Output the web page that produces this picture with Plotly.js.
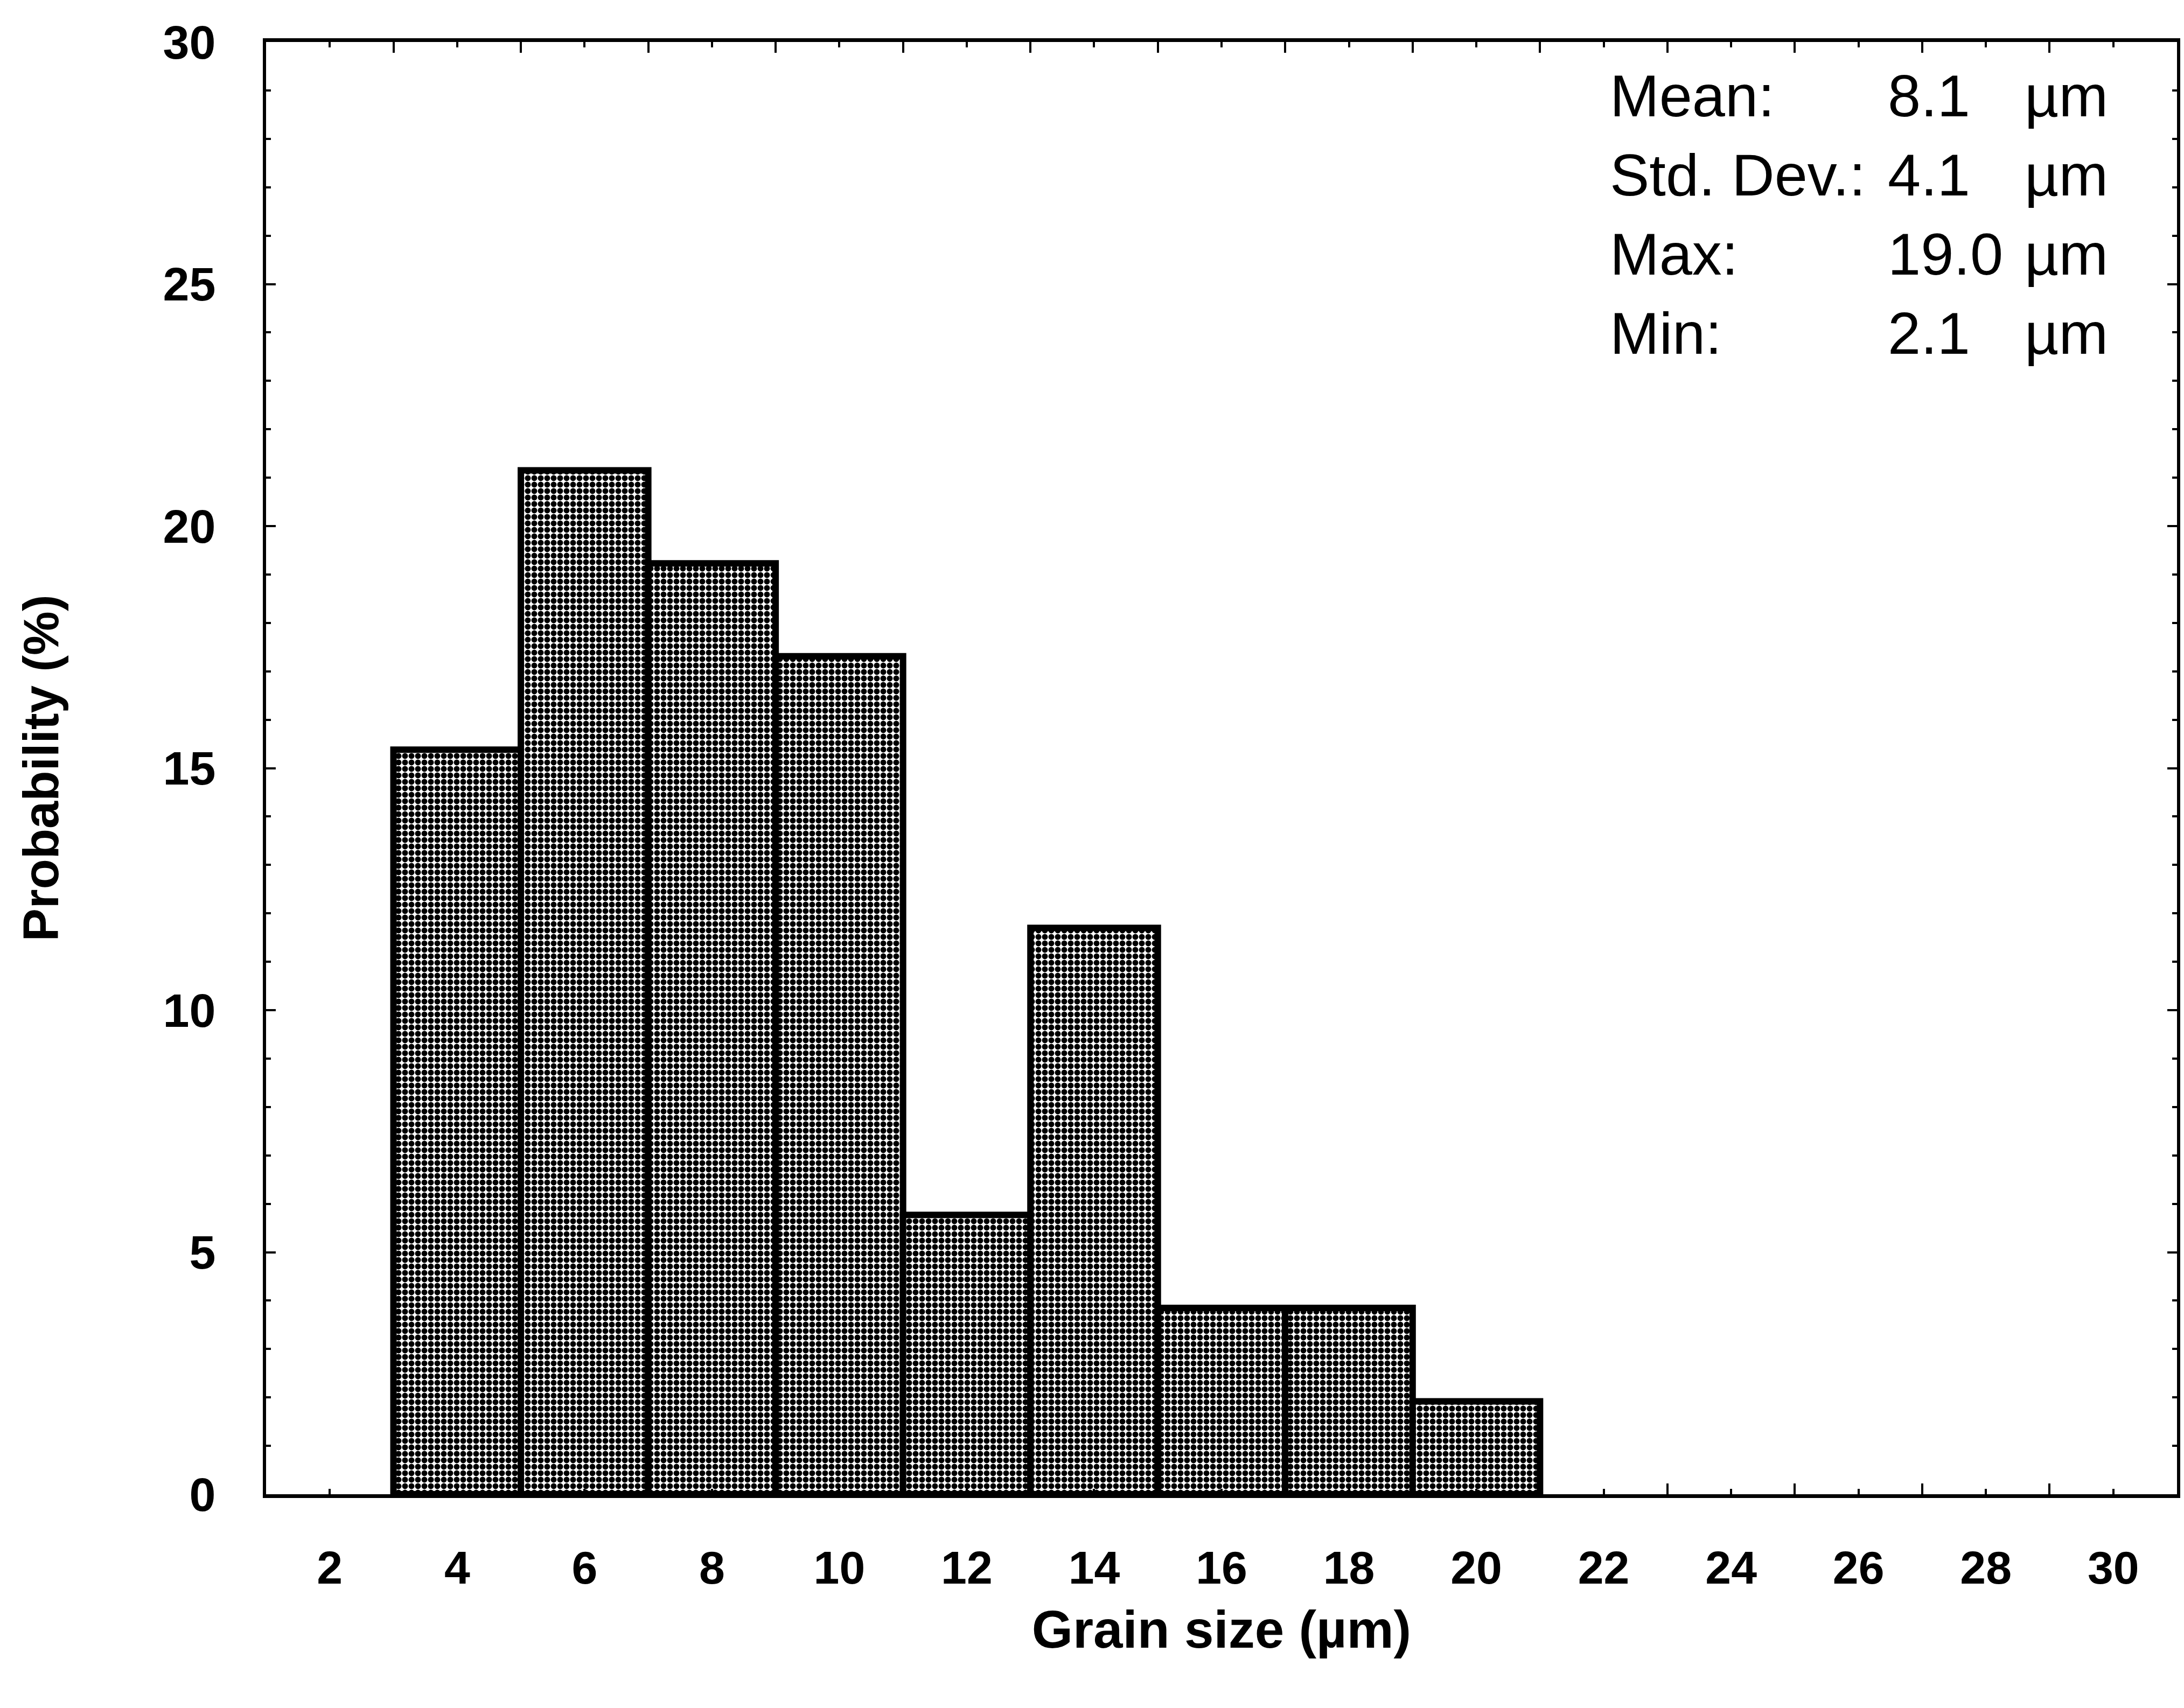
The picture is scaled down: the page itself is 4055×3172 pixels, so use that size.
<!DOCTYPE html>
<html>
<head>
<meta charset="utf-8">
<script src="https://cdn.plot.ly/plotly-3.0.1.min.js"></script>
<style>html,body{margin:0;padding:0;background:#fff;}</style>
</head>
<body>
<div id="chart" style="width:4055px;height:3172px;"></div>
<script>
// ---- data ----
const binCenters = [4, 6, 8, 10, 12, 14, 16, 18, 20];
const probability = [15.38, 21.15, 19.23, 17.31, 5.77, 11.7, 3.85, 3.85, 1.92];
const binWidth = 2;
const xTickVals = [2, 4, 6, 8, 10, 12, 14, 16, 18, 20, 22, 24, 26, 28, 30];
const xTickText = ['2', '4', '6', '8', '10', '12', '14', '16', '18', '20', '22', '24', '26', '28', '30'];
const xEdgeTicks = [3, 5, 7, 9, 11, 13, 15, 17, 19, 21, 23, 25, 27, 29];
const yTickVals = [0, 5, 10, 15, 20, 25, 30];
const yTickText = ['0', '5', '10', '15', '20', '25', '30'];
const statLabels = ['Mean:', 'Std. Dev.:', 'Max:', 'Min:'];
const statValues = ['8.1', '4.1', '19.0', '2.1'];
const statUnits = ['\u00b5m', '\u00b5m', '\u00b5m', '\u00b5m'];
const xTitle = 'Grain size (\u00b5m)';
const yTitle = 'Probability (%)';

// ---- styling ----
const FONT = 'Liberation Sans, Arial, Helvetica, sans-serif';

const trace = {
  type: 'bar',
  x: binCenters,
  y: probability,
  width: binWidth,
  marker: {
    color: '#000000',
    pattern: { shape: '.', fgcolor: '#000000', bgcolor: '#ffffff', size: 12, solidity: 0.65 },
    line: { color: '#000000', width: 12 }
  },
  hoverinfo: 'skip',
  showlegend: false
};

const annotations = [];
const rowTop = 0.963, rowStep = 0.0545;
statLabels.forEach((lab, i) => {
  const y = rowTop - i * rowStep;
  const f = { family: FONT, size: 110, color: '#000' };
  annotations.push({ xref: 'paper', yref: 'paper', x: 0.7027, y: y, xanchor: 'left', yanchor: 'middle', text: lab, showarrow: false, font: f });
  annotations.push({ xref: 'paper', yref: 'paper', x: 0.848, y: y, xanchor: 'left', yanchor: 'middle', text: statValues[i], showarrow: false, font: f });
  annotations.push({ xref: 'paper', yref: 'paper', x: 0.9197, y: y, xanchor: 'left', yanchor: 'middle', text: statUnits[i], showarrow: false, font: f });
});

const layout = {
  width: 4055,
  height: 3172,
  margin: { l: 494, r: 13, t: 78, b: 397, pad: 0 },
  paper_bgcolor: '#ffffff',
  plot_bgcolor: '#ffffff',
  bargap: 0,
  font: { family: FONT, color: '#000' },
  xaxis: {
    range: [1, 31],
    tickmode: 'array',
    tickvals: xTickVals,
    ticktext: xTickText,
    ticks: 'inside',
    ticklen: 10,
    tickwidth: 4,
    tickcolor: '#000',
    minor: { tickmode: 'array', tickvals: xEdgeTicks, ticks: 'inside', ticklen: 20, tickwidth: 4, tickcolor: '#000' },
    showline: true,
    linewidth: 7,
    linecolor: '#000',
    mirror: 'ticks',
    showgrid: false,
    zeroline: false,
    ticklabelstandoff: 56,
    tickfont: { family: FONT, size: 86, color: '#000', weight: 'bold' },
    title: { text: xTitle, font: { family: FONT, size: 98, color: '#000', weight: 'bold' }, standoff: 36 },
    fixedrange: true
  },
  yaxis: {
    range: [0, 30],
    tickmode: 'array',
    tickvals: yTickVals,
    ticktext: yTickText,
    ticks: 'inside',
    ticklen: 18,
    tickwidth: 4,
    tickcolor: '#000',
    minor: { dtick: 1, ticks: 'inside', ticklen: 9, tickwidth: 4, tickcolor: '#000' },
    showline: true,
    linewidth: 6,
    linecolor: '#000',
    mirror: 'ticks',
    showgrid: false,
    zeroline: false,
    ticklabelstandoff: 70,
    tickfont: { family: FONT, size: 88, color: '#000', weight: 'bold' },
    title: { text: yTitle, font: { family: FONT, size: 92, color: '#000', weight: 'bold' }, standoff: 165 },
    fixedrange: true
  },
  annotations: annotations
};

Plotly.newPlot('chart', [trace], layout, { displayModeBar: false, staticPlot: true });
</script>
</body>
</html>
